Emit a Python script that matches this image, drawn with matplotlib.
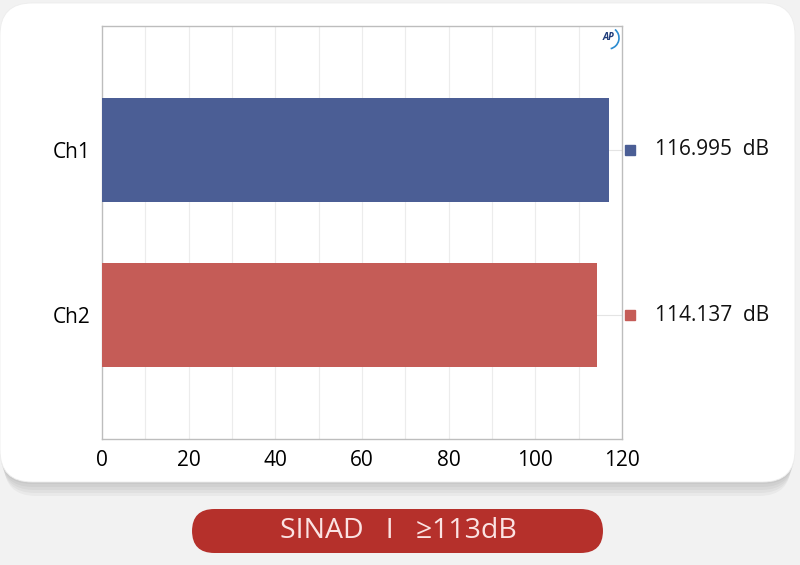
import matplotlib
matplotlib.use("Agg")
import matplotlib.pyplot as plt
from matplotlib.patches import FancyBboxPatch, Arc
from matplotlib.transforms import ScaledTranslation

channels = ["Ch1", "Ch2"]
sinad_db = [116.995, 114.137]
bar_colors = ["#4b5e95", "#c55c57"]
x_ticks = [0, 20, 40, 60, 80, 100, 120]
badge_text = "SINAD   I   ≥113dB"

plt.rcParams["font.family"] = ["Open Sans", "DejaVu Sans"]

W, H = 800, 565
fig = plt.figure(figsize=(W / 100, H / 100), dpi=100)
fig.patch.set_facecolor("#f2f2f2")


def fx(px):
    return px / W


def fy(py):
    return 1 - py / H


# soft card shadow, then the white card itself
for i in range(5):
    off = 2 + i * 3
    sh = FancyBboxPatch((fx(0 + i), fy(482 + off)), fx(795 - 2 * i), fy(3 + off) - fy(482 + off),
                        boxstyle="round,pad=0,rounding_size=0.04", transform=fig.transFigure,
                        facecolor="#000000", edgecolor="none", alpha=0.035, zorder=0,
                        mutation_aspect=W / H)
    fig.patches.append(sh)
card = FancyBboxPatch((fx(0), fy(482)), fx(795), fy(3) - fy(482),
                      boxstyle="round,pad=0,rounding_size=0.04", transform=fig.transFigure,
                      facecolor="white", edgecolor="#ededed", lw=0.6, zorder=1,
                      mutation_aspect=W / H)
fig.patches.append(card)

ax = fig.add_axes([fx(102), fy(439), fx(622) - fx(102), fy(26) - fy(439)])
ax.set_facecolor("none")
ax.set_zorder(2)

ypos = [1, 0]
ax.barh(ypos, sinad_db, height=0.63, color=bar_colors, zorder=3)
ax.set_xlim(0, 120)
ax.set_ylim(-0.75, 1.75)

# faint grid: vertical every 10, horizontal at each channel
for v in range(10, 120, 10):
    ax.axvline(v, color="#ececec", lw=0.8, zorder=1)
for y in ypos:
    ax.axhline(y, color="#e4e4e4", lw=0.8, zorder=1)

ax.set_xticks(x_ticks)
ax.set_xticklabels([str(t) for t in x_ticks], fontsize=15)
ax.set_yticks(ypos)
ax.set_yticklabels(channels, fontsize=15)
ax.tick_params(length=0, pad=8)
for s in ax.spines.values():
    s.set_color("#bdbdbd")
    s.set_linewidth(1.0)

# value readouts to the right of the plot
shift = ax.transData + ScaledTranslation(8 / 100, 0, fig.dpi_scale_trans)
for y, v, c in zip(ypos, sinad_db, bar_colors):
    ax.plot([120], [y], marker="s", ms=7, color=c, clip_on=False,
            transform=shift, zorder=4)
    ax.annotate(f"{v:.3f}  dB", xy=(120, y), xytext=(24, 0), textcoords="offset points",
                fontsize=15, va="center", ha="left", color="#111111", annotation_clip=False)

# small AP logo in the corner
fig.text(fx(608), fy(38), "AP", fontsize=7, fontweight="bold", style="italic",
         color="#1f3c7a", ha="center", va="center", zorder=5)
arc = Arc((fx(608), fy(38)), fx(22), fx(22) * W / H, theta1=-80, theta2=60,
          transform=fig.transFigure, color="#2a8bd0", lw=1.2, zorder=5)
fig.patches.append(arc)

# red badge below the card
badge = FancyBboxPatch((fx(192), fy(553)), fx(603) - fx(192), fy(509) - fy(553),
                       boxstyle="round,pad=0,rounding_size=0.028", transform=fig.transFigure,
                       facecolor="#b5302b", edgecolor="none", zorder=1,
                       mutation_aspect=W / H)
fig.patches.append(badge)
fig.text(fx(398), fy(531), badge_text, fontsize=20.5, color="#fbe3e3",
         ha="center", va="center", zorder=5)

fig.savefig("out.png", dpi=100, facecolor=fig.get_facecolor())
